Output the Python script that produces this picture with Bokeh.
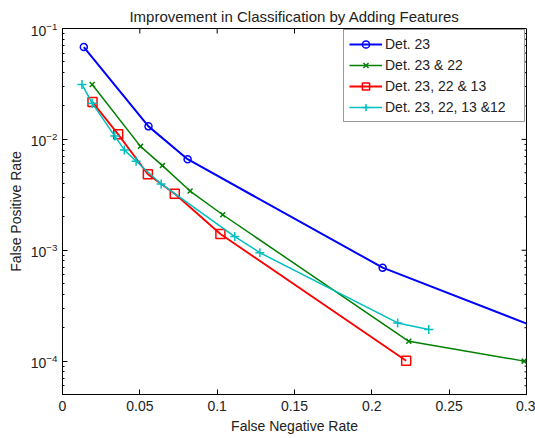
import math
from bokeh.plotting import figure
from bokeh.models import Legend, LegendItem, FixedTicker, LogTicker, Range1d
from bokeh.embed import file_html
from bokeh.resources import INLINE

# ---- data ----
title_text = "Improvement in Classification by Adding Features"
x_label = "False Negative Rate"
y_label = "False Positive Rate"

s1_name = "Det. 23"
s1_x = [0.0138, 0.0556, 0.0809, 0.2070, 0.3200]
s1_y = [0.0680, 0.0131, 0.00662, 0.000697, 0.000170]

s2_name = "Det. 23 & 22"
s2_x = [0.0192, 0.0504, 0.0646, 0.0825, 0.1036, 0.2239, 0.2985]
s2_y = [0.0313, 0.00865, 0.00580, 0.00342, 0.00209, 0.000151, 0.000100]

s3_name = "Det. 23, 22 & 13"
s3_x = [0.0194, 0.0360, 0.0552, 0.0726, 0.1021, 0.2222]
s3_y = [0.0217, 0.0111, 0.00484, 0.00323, 0.00140, 0.000101]

s4_name = "Det. 23, 22, 13 &12"
s4_x = [0.0126, 0.0192, 0.0338, 0.0400, 0.0476, 0.0638, 0.1114, 0.1276, 0.2167, 0.2368]
s4_y = [0.0313, 0.0212, 0.0107, 0.00804, 0.00634, 0.00396, 0.00133, 0.00095, 0.000221, 0.000193]

x_ticks = [0, 0.05, 0.1, 0.15, 0.2, 0.25, 0.3]
x_tick_labels = {0: "0", 0.05: "0.05", 0.1: "0.1", 0.15: "0.15", 0.2: "0.2", 0.25: "0.25", 0.3: "0.3"}
y_major = [1e-4, 1e-3, 1e-2]
y_minor = [m * 10.0 ** e for e in (-5, -4, -3, -2) for m in range(2, 10)]

x_min, x_max = 0.0, 0.3
y_min, y_max = 5e-5, 0.1

FONT = "Liberation Sans"
FW, FH = 464, 366   # frame size in px
ML, MR, MT, MB = 62, 9, 28, 44

p = figure(width=ML + FW + MR, height=MT + FH + MB,
           x_range=Range1d(x_min, x_max), y_range=Range1d(y_min, y_max),
           y_axis_type="log", output_backend="svg", toolbar_location=None,
           min_border_left=ML, min_border_right=MR, min_border_top=MT, min_border_bottom=MB,
           x_axis_label=x_label, y_axis_label=y_label)
p.background_fill_color = "white"
p.border_fill_color = "white"
p.outline_line_color = "black"
p.outline_line_width = 1
p.xgrid.visible = False
p.ygrid.visible = False

p.title.text = title_text
p.title.align = "center"
p.title.text_font = FONT
p.title.text_font_size = "15px"
p.title.text_font_style = "normal"
p.title.text_color = "#222222"
p.title.standoff = 7
p.title.offset = 0

def style_axis(ax):
    ax.axis_line_color = "black"
    ax.major_tick_in = 5
    ax.major_tick_out = 0
    ax.minor_tick_in = 2
    ax.minor_tick_out = 0
    ax.major_tick_line_color = "black"
    ax.minor_tick_line_color = "black"
    ax.major_label_text_font = FONT
    ax.major_label_text_font_size = "14px"
    ax.major_label_text_color = "#222222"
    ax.axis_label_text_font = FONT
    ax.axis_label_text_font_size = "14px"
    ax.axis_label_text_font_style = "normal"
    ax.axis_label_text_color = "#222222"

xax = p.xaxis[0]
style_axis(xax)
xax.ticker = FixedTicker(ticks=x_ticks)
xax.major_label_overrides = x_tick_labels
xax.minor_tick_line_color = None
xax.major_label_standoff = 6
xax.axis_label_standoff = 4

yax = p.yaxis[0]
style_axis(yax)
yax.ticker = LogTicker(num_minor_ticks=10)
yax.major_label_standoff = 5
yax.axis_label_standoff = 4

# mirrored inward ticks on top and right edges (MATLAB box style)
px_per_dec = FH / math.log10(y_max / y_min)
px_per_x = FW / (x_max - x_min)
top_x = [t for t in x_ticks if x_min < t < x_max]
p.segment(x0=top_x, y0=[y_max] * len(top_x), x1=top_x,
          y1=[y_max * 10 ** (-5 / px_per_dec)] * len(top_x), line_color="black", line_width=1)
p.segment(x0=[x_max] * len(y_major), y0=y_major, x1=[x_max - 5 / px_per_x] * len(y_major),
          y1=y_major, line_color="black", line_width=1)
ym = [v for v in y_minor if y_min <= v <= y_max]
p.segment(x0=[x_max] * len(ym), y0=ym, x1=[x_max - 2 / px_per_x] * len(ym),
          y1=ym, line_color="black", line_width=1)

items = []
series = [
    (s1_name, s1_x, s1_y, "#0000FF", "circle", 7, 2.0),
    (s2_name, s2_x, s2_y, "#008000", "x", 7, 1.5),
    (s3_name, s3_x, s3_y, "#FF0000", "square", 9, 1.8),
    (s4_name, s4_x, s4_y, "#00BFBF", "cross", 9, 1.5),
]
for name, xs, ys, col, mk, sz, lw in series:
    r1 = p.line(xs, ys, line_color=col, line_width=lw)
    r2 = p.scatter(xs, ys, marker=mk, size=sz, line_color=col, fill_color=None, line_width=1.5)
    items.append(LegendItem(label=name, renderers=[r1, r2]))

legend = Legend(items=items, location=(281, 272))
legend.label_text_font = FONT
legend.label_text_font_size = "14px"
legend.label_text_color = "#222222"
legend.border_line_color = "#333333"
legend.border_line_width = 1
legend.padding = 5
legend.spacing = 3
legend.label_height = 18
legend.glyph_height = 18
legend.glyph_width = 33
legend.label_standoff = 3
legend.label_width = 134
legend.margin = 0
legend.background_fill_alpha = 1
p.add_layout(legend, "center")

open("out.html", "w").write(file_html(p, INLINE))
